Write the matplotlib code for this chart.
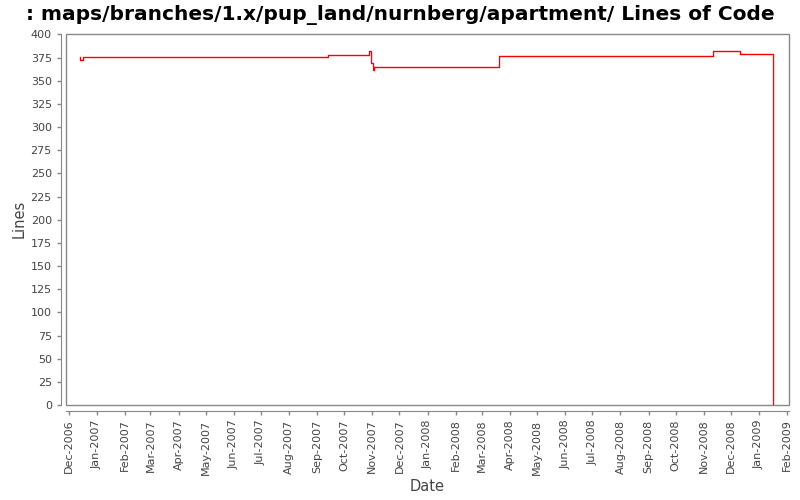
import matplotlib
matplotlib.use("Agg")
import matplotlib.pyplot as plt
import matplotlib.dates as mdates
import pandas as pd

# lines of code over time (step changes)
dates = ["2006-12-13", "2006-12-13", "2006-12-16", "2007-09-13", "2007-10-28",
         "2007-10-31", "2007-11-02", "2007-11-03", "2008-03-20", "2008-11-11",
         "2008-12-11", "2009-01-17"]
lines = [376, 372, 376, 378, 382, 369, 362, 365, 377, 382, 379, 0]

title = ": maps/branches/1.x/pup_land/nurnberg/apartment/ Lines of Code"

x = pd.to_datetime(dates)

fig = plt.figure(figsize=(8, 5), dpi=100)
ax = fig.add_axes([0.083, 0.19, 0.903, 0.743])

ax.plot(x, lines, color="red", linewidth=1, drawstyle="steps-post")

ax.set_xlim(pd.Timestamp("2006-11-28 05:00"), pd.Timestamp("2009-02-02 22:00"))
ax.set_ylim(0, 401)
ax.set_yticks(range(0, 401, 25))

ax.xaxis.set_major_locator(mdates.MonthLocator())
ax.xaxis.set_major_formatter(mdates.DateFormatter("%b-%Y"))
ax.tick_params(axis="x", labelrotation=90)

# plot border + offset axis lines, JFreeChart look
ax.patch.set_edgecolor("#888888")
ax.patch.set_linewidth(1)
for s in ["top", "right"]:
    ax.spines[s].set_visible(False)
for s in ["left", "bottom"]:
    ax.spines[s].set_position(("outward", 4))
    ax.spines[s].set_color("#888888")
ax.tick_params(colors="#888888", labelcolor="#444444", labelsize=8, length=3, width=1)

ax.set_xlabel("Date", fontsize=10.5, color="#444444", labelpad=3)
ax.set_ylabel("Lines", fontsize=10.5, color="#444444", labelpad=3)
fig.suptitle(title, fontsize=14.5, fontweight="bold", y=0.99)

fig.savefig("out.png", dpi=100)
